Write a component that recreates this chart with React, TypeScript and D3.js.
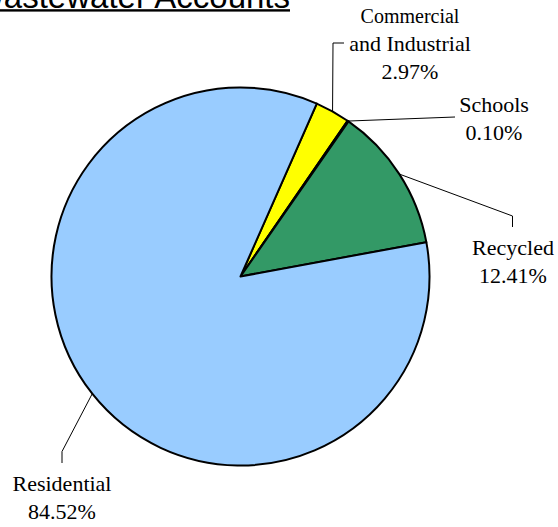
import React from "react";
import * as d3 from "d3";

const categories = ["Commercial and Industrial", "Schools", "Recycled", "Residential"];
const values = [2.97, 0.1, 12.41, 84.52];
const colors = ["#FFFF00", "#993366", "#339966", "#99CCFF"];
const labelLines = [
  ["Commercial", "and Industrial", "2.97%"],
  ["Schools", "0.10%"],
  ["Recycled", "12.41%"],
  ["Residential", "84.52%"],
];
const title = "Wastewater Accounts";

const W = 558;
const H = 527;
const cx = 240.5;
const cy = 276.5;
const R = 189;
const startDeg = 23.8;

// label layout: text centre x, first baseline y, leader elbow points
const labelLayout = [
  { x: 410, y: 23, sizes: [20, 22, 22], leader: [[333, 43], [344, 43]] },
  { x: 494, y: 111.5, sizes: [22, 22], leader: [[455, 117]] },
  { x: 513, y: 255, sizes: [22, 22], leader: [[512.5, 216], [512.5, 227]] },
  { x: 62, y: 491, sizes: [22, 22], leader: [[62, 451.5], [62, 463]] },
];
const lineGap = 28;

export default function App() {
  const pie = d3
    .pie<number>()
    .sort(null)
    .value((d) => d)
    .startAngle((startDeg * Math.PI) / 180)
    .endAngle((startDeg * Math.PI) / 180 + 2 * Math.PI);
  const arcs = pie(values);
  const arc = d3.arc<d3.PieArcDatum<number>>().innerRadius(0).outerRadius(R);

  return (
    <svg
      width={W}
      height={H}
      style={{ position: "absolute", left: 0, top: 0, background: "#fff" }}
    >
      <text
        x={290}
        y={7.5}
        textAnchor="end"
        fontFamily="'Liberation Sans', Arial, sans-serif"
        fontSize={33}
        fill="#000"
      >
        {title}
      </text>
      <rect x={-60} y={9.2} width={350} height={2.4} fill="#000" />
      <g transform={`translate(${cx},${cy})`}>
        {arcs.map((a, i) => (
          <path
            key={categories[i]}
            d={arc(a) || ""}
            fill={colors[i]}
            stroke="#000"
            strokeWidth={2}
            strokeLinejoin="round"
          />
        ))}
      </g>
      {arcs.map((a, i) => {
        const mid = (a.startAngle + a.endAngle) / 2;
        const sx = cx + R * Math.sin(mid);
        const sy = cy - R * Math.cos(mid);
        const pts = [[sx, sy], ...labelLayout[i].leader];
        const line = d3.line()(pts as [number, number][]);
        return (
          <path key={"l" + i} d={line || ""} fill="none" stroke="#000" strokeWidth={1} />
        );
      })}
      {labelLines.map((lines, i) => {
        const lay = labelLayout[i];
        return (
          <text
            key={"t" + i}
            textAnchor="middle"
            fontFamily="'Liberation Serif', 'Times New Roman', serif"
            fill="#000"
          >
            {lines.map((s, j) => (
              <tspan key={j} x={lay.x} y={lay.y + j * lineGap} fontSize={lay.sizes[j]}>
                {s}
              </tspan>
            ))}
          </text>
        );
      })}
    </svg>
  );
}
